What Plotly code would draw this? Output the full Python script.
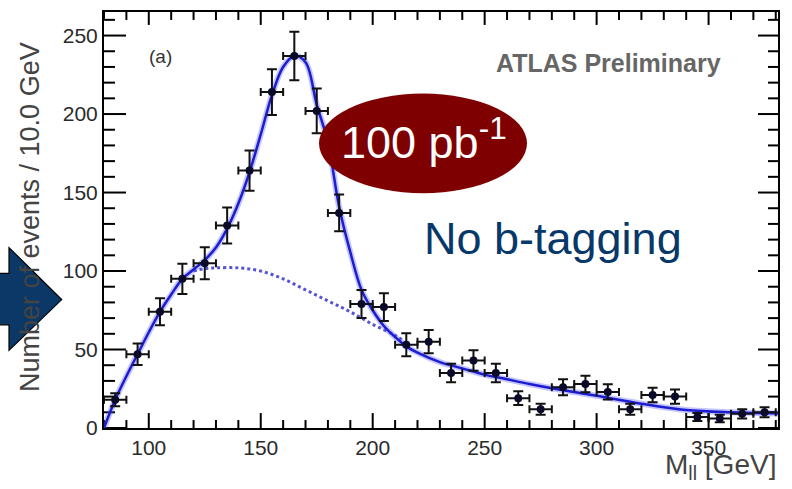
import plotly.graph_objects as go
from plotly.subplots import make_subplots

# ---- data ----
bin_centers = [85, 95, 105, 115, 125, 135, 145, 155, 165, 175, 185, 195, 205, 215, 225,
               235, 245, 255, 265, 275, 285, 295, 305, 315, 325, 335, 345, 355, 365, 375]
events = [18, 47, 74, 95, 105, 129, 164, 214, 237, 202, 137, 79, 77, 53, 55,
          35, 43, 35, 19, 12, 26, 28, 23, 12, 21, 20, 7, 6, 9, 10]
event_err = [4.2, 6.9, 8.6, 9.7, 10.2, 11.4, 12.8, 14.6, 15.4, 14.2, 11.7, 8.9, 8.8, 7.3, 7.4,
             5.9, 6.6, 5.9, 4.4, 3.5, 5.1, 5.3, 4.8, 3.5, 4.6, 4.5, 2.6, 2.4, 3.0, 3.2]
bin_half_width = [5] * len(bin_centers)

fit_x = [80, 85, 90, 95, 100, 105, 110, 115, 120, 125, 130, 135, 140, 145, 150, 155, 160,
         165, 170, 175, 180, 185, 190, 195, 200, 205, 210, 215, 220, 230, 240, 250, 260,
         270, 285, 300, 320, 340, 360, 381]
fit_y = [0, 18, 33, 47, 61, 74, 85, 95, 101, 107, 115, 127, 143, 163, 187, 212, 230,
         237, 233, 206, 182, 141, 112, 88, 75, 65, 58, 52, 48, 42, 38, 34, 31,
         28, 24, 20.5, 15.5, 11.5, 10, 9.3]

bkg_x = [120, 125, 130, 140, 150, 160, 170, 180, 190, 200, 210, 216]
bkg_y = [100, 101.5, 102, 102, 100, 95, 88, 81, 74, 66, 59, 53]

x_range = [80, 381]
y_range = [0, 265]
x_major_ticks = [100, 150, 200, 250, 300, 350]
x_minor_ticks = [v for v in range(80, 381, 10) if v not in x_major_ticks]
y_major_ticks = [0, 50, 100, 150, 200, 250]
y_minor_ticks = [v for v in range(0, 266, 10) if v not in y_major_ticks]

FONT = "Liberation Sans, Arial, sans-serif"

# plot area in pixels (for overlay placement)
L, R, T, B = 104, 778, 10, 428
W, H = 792, 489
PW, PH = R - L, B - T
X_PER_PX = (x_range[1] - x_range[0]) / PW
Y_PER_PX = (y_range[1] - y_range[0]) / PH


def px(x):
    return (x - L) / PW


def py(y):
    return (B - y) / PH


fig = make_subplots(rows=1, cols=1)

# inside tick marks on all four sides (segments built from the tick values and axis scale)
tx, ty = [], []
for v in x_major_ticks + x_minor_ticks:
    major = v in x_major_ticks
    lb = (15 if major else 8) * Y_PER_PX
    lt = (13 if major else 8) * Y_PER_PX
    tx += [v, v, None, v, v, None]
    ty += [y_range[0], y_range[0] + lb, None, y_range[1], y_range[1] - lt, None]
for v in y_major_ticks + y_minor_ticks:
    major = v in y_major_ticks
    ll = (22 if major else 11) * X_PER_PX
    lr = (20 if major else 10) * X_PER_PX
    tx += [x_range[0], x_range[0] + ll, None, x_range[1], x_range[1] - lr, None]
    ty += [v, v, None, v, v, None]
fig.add_trace(go.Scatter(x=tx, y=ty, mode="lines", line=dict(color="black", width=2),
                         hoverinfo="skip", showlegend=False, cliponaxis=False), row=1, col=1)

# background (dashed)
fig.add_trace(go.Scatter(x=bkg_x, y=bkg_y, mode="lines",
                         line=dict(color="#5454d6", width=3, dash="dot", shape="spline"),
                         hoverinfo="skip", showlegend=False), row=1, col=1)
# glow of fit
fig.add_trace(go.Scatter(x=fit_x, y=fit_y, mode="lines",
                         line=dict(color="rgba(90,90,255,0.35)", width=6, shape="spline"),
                         hoverinfo="skip", showlegend=False), row=1, col=1)
# fit
fig.add_trace(go.Scatter(x=fit_x, y=fit_y, mode="lines",
                         line=dict(color="#1c1cd0", width=2.5, shape="spline"),
                         showlegend=False), row=1, col=1)
# data
fig.add_trace(go.Scatter(x=bin_centers, y=events, mode="markers",
                         marker=dict(color="#0a0a28", size=8),
                         error_y=dict(type="data", array=event_err, color="#111", thickness=2, width=5),
                         error_x=dict(type="data", array=bin_half_width, color="#111", thickness=2, width=4),
                         showlegend=False), row=1, col=1)

axis_common = dict(showline=True, linecolor="black", linewidth=2, mirror=True,
                   ticks="", showgrid=False, zeroline=False,
                   tickfont=dict(family=FONT, size=21, color="#2a2a2a"))

fig.update_xaxes(range=x_range, tickmode="array", tickvals=x_major_ticks, row=1, col=1, **axis_common)
fig.update_yaxes(range=y_range, tickmode="array", tickvals=y_major_ticks, row=1, col=1, **axis_common)

# ellipse
fig.add_shape(type="circle", xref="paper", yref="paper",
              x0=px(319), x1=px(527), y0=py(192), y1=py(92),
              fillcolor="#7f0000", line=dict(width=0), layer="above")
# arrow
pts = [(-6, 272.7), (9, 272.7), (9, 246.7), (61.7, 299), (9, 350), (9, 324.3), (-6, 324.3)]
path = "M " + " L ".join(f"{px(a):.5f},{py(b):.5f}" for a, b in pts) + " Z"
fig.add_shape(type="path", xref="paper", yref="paper", path=path,
              fillcolor="#0b3866", line=dict(color="black", width=1.2), layer="above")

annotations = [
    dict(text="100 pb<sup>-1</sup>", xref="paper", yref="paper", x=px(424), y=py(138),
         xanchor="center", yanchor="middle", showarrow=False,
         font=dict(family=FONT, size=45, color="white")),
    dict(text="No b-tagging", xref="paper", yref="paper", x=px(553), y=py(238),
         xanchor="center", yanchor="middle", showarrow=False,
         font=dict(family=FONT, size=45, color="#07386a")),
    dict(text="<b>ATLAS Preliminary</b>", xref="paper", yref="paper", x=px(608), y=py(61),
         xanchor="center", yanchor="middle", showarrow=False,
         font=dict(family=FONT, size=25, color="#666666")),
    dict(text="(a)", xref="paper", yref="paper", x=px(160), y=py(55),
         xanchor="center", yanchor="middle", showarrow=False,
         font=dict(family=FONT, size=19, color="#333333")),
    dict(text="Number of events / 10.0 GeV", xref="paper", yref="paper", x=px(30), y=py(216),
         xanchor="center", yanchor="middle", textangle=-90, showarrow=False,
         font=dict(family=FONT, size=27, color="#444444")),
    dict(text="M<sub>ll</sub> [GeV]", xref="paper", yref="paper", x=1.0, y=py(467),
         xanchor="right", yanchor="middle", showarrow=False,
         font=dict(family=FONT, size=28, color="#444444")),
]
for a in annotations:
    fig.add_annotation(**a)

fig.update_layout(width=W, height=H, margin=dict(l=L, r=W - R, t=T, b=H - B, pad=0),
                  paper_bgcolor="white", plot_bgcolor="white", showlegend=False)

fig.write_html("out.html", config={"displayModeBar": False},
               post_script="document.body.style.margin='0px';")
